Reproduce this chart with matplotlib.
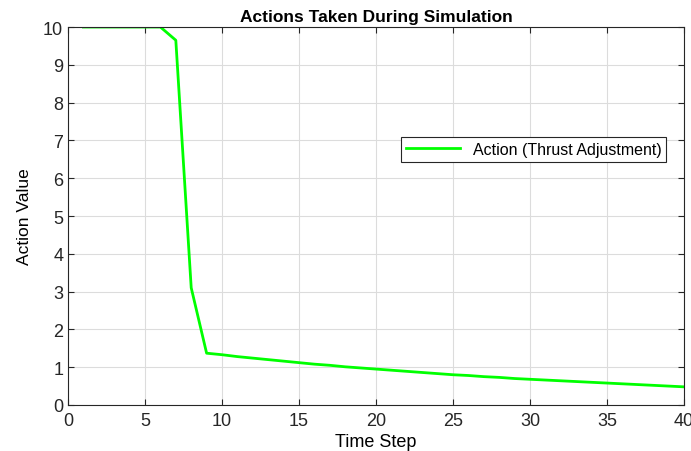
import matplotlib
matplotlib.use("Agg")
import matplotlib.pyplot as plt

plt.rcParams["font.family"] = ["Liberation Sans", "DejaVu Sans"]

# dados
passos = list(range(1, 41))
acoes = [10.0, 10.0, 10.0, 10.0, 10.0, 10.0, 9.65, 3.1, 1.37, 1.33,
         1.28, 1.24, 1.20, 1.16, 1.12, 1.08, 1.05, 1.01, 0.98, 0.95,
         0.92, 0.89, 0.86, 0.83, 0.80, 0.78, 0.75, 0.73, 0.70, 0.68,
         0.66, 0.64, 0.62, 0.60, 0.58, 0.56, 0.54, 0.52, 0.50, 0.48]
xticks = [0, 5, 10, 15, 20, 25, 30, 35, 40]
yticks = list(range(0, 11))

fig = plt.figure(figsize=(6.91, 4.52), dpi=100)
ax = fig.add_axes([0.0984, 0.1018, 0.8916, 0.8362])

ax.plot(passos, acoes, color=(0, 1, 0), linewidth=2,
        label="Action (Thrust Adjustment)")

ax.set_xlim(0, 40)
ax.set_ylim(0, 10)
ax.set_xticks(xticks)
ax.set_yticks(yticks)
ax.grid(True, color="#dcdcdc", linewidth=0.8)
ax.set_axisbelow(True)

for lado in ax.spines.values():
    lado.set_color("#262626")
    lado.set_linewidth(0.8)
ax.tick_params(direction="in", top=True, right=True, length=4,
               labelsize=13, colors="#262626", labelcolor="#262626")
ax.tick_params(axis="x", pad=5)

ax.set_title("Actions Taken During Simulation", fontsize=12.5,
             fontweight="bold", pad=4)
ax.set_xlabel("Time Step", fontsize=13, labelpad=3)
ax.set_ylabel("Action Value", fontsize=12.5, labelpad=8)

leg = ax.legend(loc="upper right", bbox_to_anchor=(0.971, 0.709),
                borderaxespad=0, fontsize=11.5, frameon=True,
                fancybox=False, edgecolor="#262626", framealpha=1,
                handlelength=3.4, borderpad=0.3)
leg.get_frame().set_linewidth(0.8)

fig.savefig("out.png", dpi=100)
